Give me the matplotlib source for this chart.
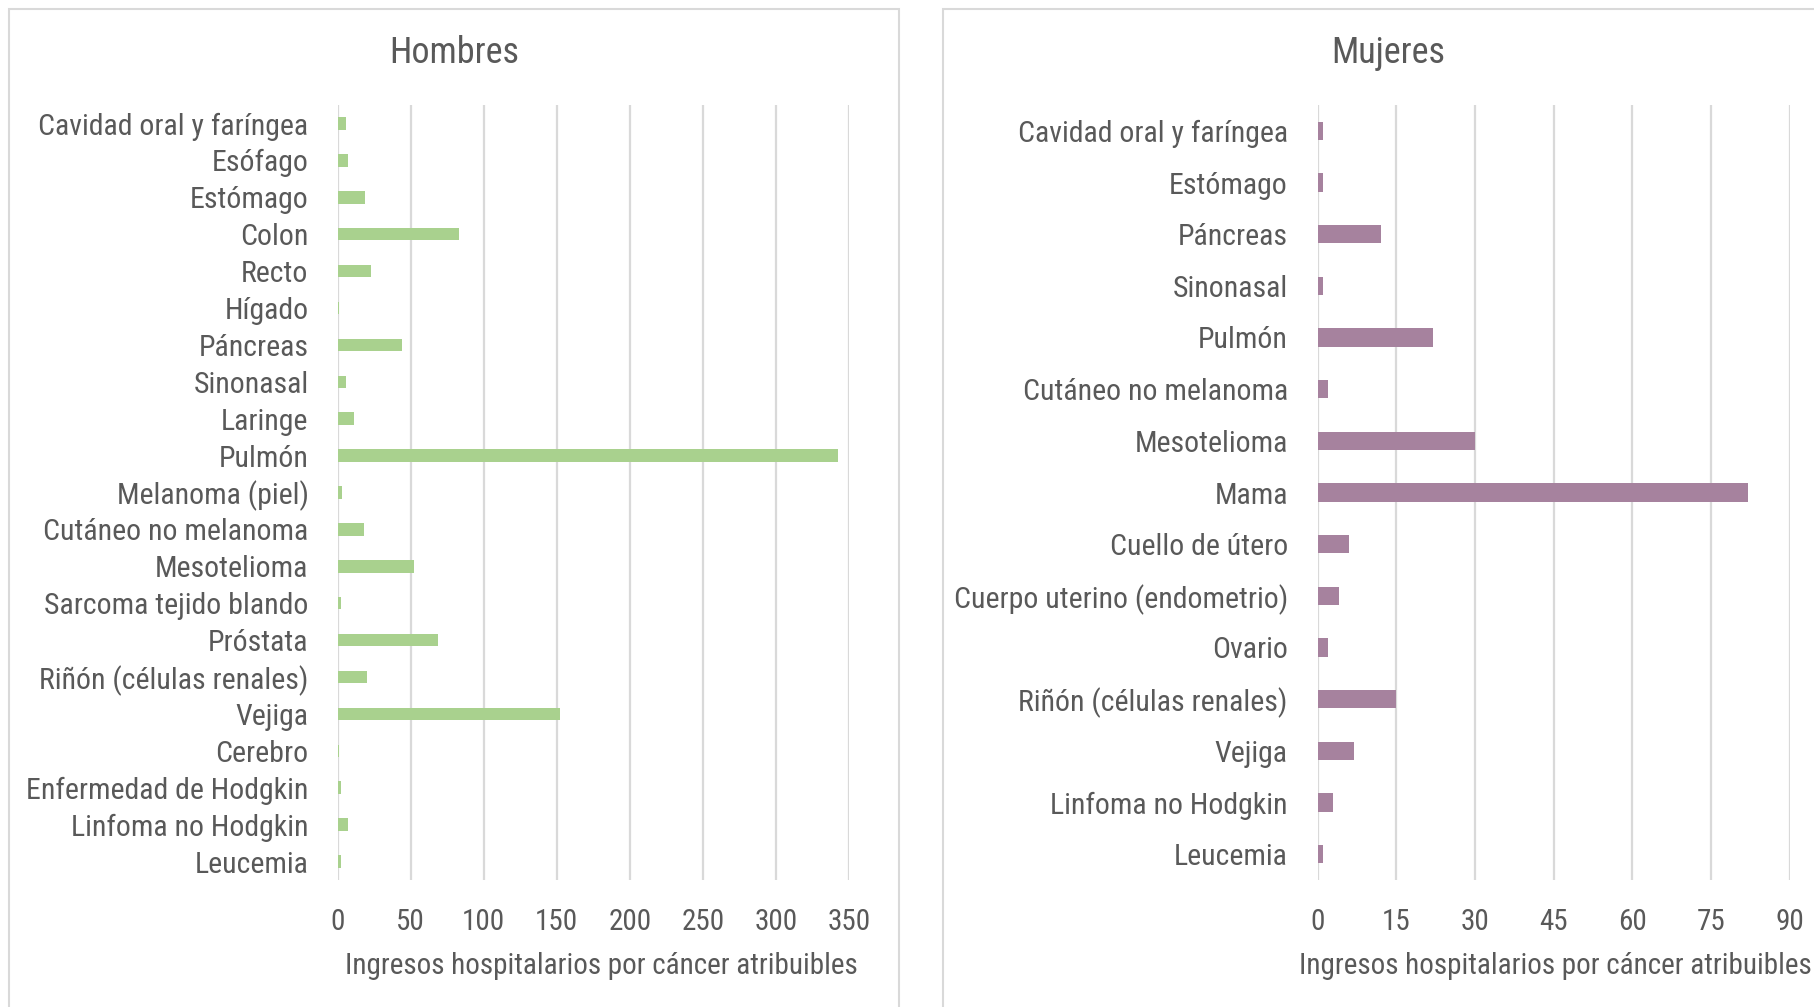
import matplotlib
matplotlib.use("Agg")
import matplotlib.pyplot as plt
from matplotlib import font_manager
from matplotlib.patches import Rectangle

# --- data ---
hombres_labels = [
    "Cavidad oral y faríngea", "Esófago", "Estómago", "Colon", "Recto",
    "Hígado", "Páncreas", "Sinonasal", "Laringe", "Pulmón",
    "Melanoma (piel)", "Cutáneo no melanoma", "Mesotelioma",
    "Sarcoma tejido blando", "Próstata", "Riñón (células renales)",
    "Vejiga", "Cerebro", "Enfermedad de Hodgkin", "Linfoma no Hodgkin",
    "Leucemia",
]
hombres_values = [6, 7, 19, 83, 23, 1, 44, 6, 11, 343, 3, 18, 52, 2, 69, 20,
                  152, 1, 2, 7, 2]

mujeres_labels = [
    "Cavidad oral y faríngea", "Estómago", "Páncreas", "Sinonasal", "Pulmón",
    "Cutáneo no melanoma", "Mesotelioma", "Mama", "Cuello de útero",
    "Cuerpo uterino (endometrio)", "Ovario", "Riñón (células renales)",
    "Vejiga", "Linfoma no Hodgkin", "Leucemia",
]
mujeres_values = [1, 1, 12, 1, 22, 2, 30, 82, 6, 4, 2, 15, 7, 3, 1]

hombres_ticks = [0, 50, 100, 150, 200, 250, 300, 350]
mujeres_ticks = [0, 15, 30, 45, 60, 75, 90]

xlabel = "Ingresos hospitalarios por cáncer atribuibles"

# pick a narrow font if one is installed
names = {f.name for f in font_manager.fontManager.ttflist}
family = "Liberation Sans"
for cand in ["Liberation Sans Narrow", "Roboto Condensed", "Arial Narrow"]:
    if cand in names:
        family = cand
        break
plt.rcParams["font.family"] = [family, "DejaVu Sans"]

TEXT = "#595959"
GRID = "#d9d9d9"

W, H = 1815, 1007
fig = plt.figure(figsize=(W / 100, H / 100), dpi=100)

# panel frames (Excel chart areas)
fig.patches.append(Rectangle((9 / W, -0.05), (899 - 9) / W, 1.05 - 8.5 / H,
                             transform=fig.transFigure, fill=False,
                             edgecolor=GRID, lw=1.5))
fig.patches.append(Rectangle((943 / W, -0.05), 1.0, 1.05 - 8.5 / H,
                             transform=fig.transFigure, fill=False,
                             edgecolor=GRID, lw=1.5))


def panel(rect, labels, values, ticks, color, title, title_x, height, ypad,
          label_x=0.5):
    ax = fig.add_axes(rect)
    y = list(range(len(labels)))
    ax.barh(y, values, height=height, color=color, zorder=3)
    ax.set_ylim(len(labels) - 0.5, -0.5)
    ax.set_xlim(ticks[0], ticks[-1])
    ax.set_yticks(y)
    ax.set_yticklabels(labels, fontsize=21.5, color=TEXT)
    ax.set_xticks(ticks)
    ax.set_xticklabels([str(t) for t in ticks], fontsize=21, color=TEXT)
    ax.tick_params(axis="y", length=0, pad=ypad)
    ax.tick_params(axis="x", length=0, pad=20.5)
    ax.xaxis.grid(True, color=GRID, lw=1.6, zorder=0)
    for s in ax.spines.values():
        s.set_visible(False)
    ax.set_xlabel(xlabel, fontsize=21, color=TEXT, labelpad=11.5)
    ax.xaxis.label.set_x(label_x)
    fig.text(title_x / W, 1 - 53 / H, title, fontsize=26, color=TEXT,
             ha="center", va="center")
    return ax


panel([337.7 / W, 1 - 880 / H, 511 / W, 775 / H], hombres_labels,
      hombres_values, hombres_ticks, "#a9d18e", "Hombres", 454, 0.34, 21,
      label_x=0.5 + 8 / 511)
panel([1317.7 / W, 1 - 880 / H, 472 / W, 775 / H], mujeres_labels,
      mujeres_values, mujeres_ticks, "#a6829e", "Mujeres", 1388, 0.35, 21.5,
      label_x=0.5 + 1.5 / 472)

fig.savefig("out.png", dpi=100)
